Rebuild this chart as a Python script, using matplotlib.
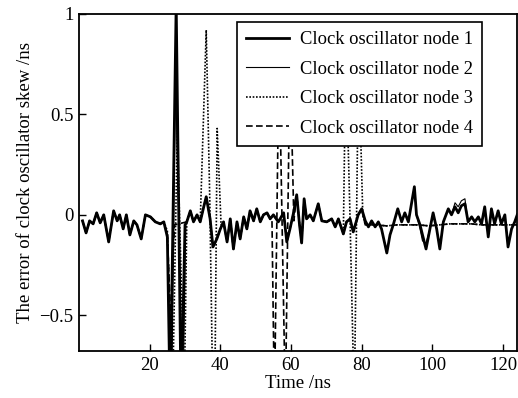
import matplotlib
matplotlib.use("Agg")
import matplotlib.pyplot as plt

plt.rcParams['font.family'] = ['Liberation Serif', 'DejaVu Serif']
plt.rcParams['font.size'] = 13.5

# shared noisy baseline (time /ns, error /ns)
base_t = [1, 2, 3, 4, 5, 6, 7, 8.4, 9.8, 10.8, 11.5, 12.5, 13.4, 14.4, 15.5, 16.4,
          17.6, 18.8, 20.2, 21.6, 23, 24, 25, 30.5, 31.5, 32.4, 33.4, 34.3, 35.3,
          36, 37.1, 37.9, 39, 40, 40.9, 41.9, 42.8, 43.7, 44.7, 45.6, 46.6, 47.5,
          48.4, 49.4, 50.3, 51.3, 52.2, 53.2, 54.1, 55, 56.4, 57.9, 58.8, 59.7,
          60.7, 61.6, 62.4, 63, 63.7, 64.4, 65.4, 66.3, 67.7, 68.7, 70.1, 71.5,
          72.5, 73.4, 74.8, 75.7, 76.7, 77.6, 79, 80, 81, 81.9, 82.8, 83.8, 84.7,
          85.6, 87.1, 88, 89, 90.2, 91.3, 92.2, 93.2, 94.9, 95.5, 96.5, 97.2, 98.2,
          99.3, 100.2, 101.2, 102.1, 103.1, 104.5, 105.4, 106.4, 107.3, 108.2,
          109.2, 110.1, 111.1, 112, 113, 113.9, 114.8, 115.8, 116.7, 117.6, 118.6,
          119.5, 120.5, 121.4, 122.4, 123.3, 124]
base_v = [-0.03, -0.09, -0.03, -0.045, 0.01, -0.04, 0.0, -0.135, 0.02, -0.03, 0.0,
          -0.07, 0.0, -0.10, -0.03, -0.05, -0.12, 0.0, -0.01, -0.035, -0.045, -0.035,
          -0.11, -0.035, 0.02, -0.035, 0.0, -0.035, 0.04, 0.09, -0.02, -0.16, -0.12,
          -0.07, -0.035, -0.135, -0.02, -0.17, -0.035, -0.12, -0.01, -0.07, 0.02,
          -0.03, 0.03, -0.035, 0.0, 0.01, -0.02, 0.0, -0.035, 0.01, -0.135, -0.07,
          0.01, 0.10, -0.05, -0.14, 0.08, -0.02, 0.0, -0.03, 0.055, -0.03, -0.035,
          -0.02, -0.06, -0.02, -0.095, -0.035, -0.02, -0.085, 0.0, 0.03, -0.03,
          -0.06, -0.03, -0.06, -0.035, -0.07, -0.19, -0.10, -0.045, 0.03, -0.035,
          0.01, -0.035, 0.14, 0.0, -0.05, -0.10, -0.17, -0.07, 0.01, -0.07, -0.17,
          -0.035, 0.03, 0.0, 0.04, 0.01, 0.045, 0.055, -0.035, -0.01, -0.035, -0.01,
          -0.045, 0.04, -0.11, 0.03, -0.045, 0.02, -0.045, 0.0, -0.16, -0.07,
          -0.035, 0.0]

# node 2 departs slightly from node 1 here
node2_fix_t = [96.5, 97.2, 98.2, 106.4, 107.3, 108.2, 109.2]
node2_fix_v = [-0.07, -0.13, -0.14, 0.06, 0.04, 0.07, 0.08]

# nodes 3 and 4 settle to a flat level after 81 ns
flat_t = [81, 84, 87, 90, 93, 96, 99, 102, 105, 108, 111, 114, 117, 120, 124]
flat_v = [-0.05, -0.05, -0.055, -0.05, -0.05, -0.05, -0.055, -0.05, -0.045,
          -0.045, -0.045, -0.05, -0.05, -0.05, -0.05]

# spikes
n1_spk_t = [25.0, 25.8, 27.5, 28.9, 30.0]
n1_spk_v = [-0.11, -0.95, 1.05, -0.95, -0.05]
n2_spk_t = [25.0, 26.2, 27.3, 28.2, 29.4, 30.2]
n2_spk_v = [-0.10, -0.95, 0.69, 0.0, -0.95, -0.04]
n3_spk_t = [25.0, 26.5, 27.8, 29.8, 30.5,
            34.3, 36.0, 37.0, 37.9, 38.4, 39.1, 40.2,
            74.8, 75.5, 76.6, 77.9, 79.1, 80.3]
n3_spk_v = [-0.08, -0.9, 0.42, -0.9, -0.03,
            -0.035, 0.92, 0.08, -0.95, -0.95, 0.43, -0.05,
            -0.095, 0.8, 0.05, -0.95, 0.8, 0.0]
n4_spk_t = [25.0, 26.0, 27.0, 54.6, 55.3, 56.6, 58.4, 59.7, 60.8]
n4_spk_v = [-0.10, -0.53, -0.05, -0.02, -0.95, 0.8, -0.95, 0.8, -0.03]

labels = ['Clock oscillator node 1', 'Clock oscillator node 2',
          'Clock oscillator node 3', 'Clock oscillator node 4']


def build(spk_t, spk_v, windows, fix_t=(), fix_v=(), flat_from=None):
    pts = []
    fix = dict(zip(fix_t, fix_v))
    for t, v in zip(base_t, base_v):
        if flat_from is not None and t >= flat_from:
            continue
        if any(a <= t <= b for a, b in windows):
            continue
        pts.append((t, fix.get(t, v)))
    pts += list(zip(spk_t, spk_v))
    if flat_from is not None:
        pts += [(t, v) for t, v in zip(flat_t, flat_v) if t >= flat_from]
    pts.sort()
    return [p[0] for p in pts], [p[1] for p in pts]


n1 = build(n1_spk_t, n1_spk_v, [(25, 30)])
n2 = build(n2_spk_t, n2_spk_v, [(25, 30.2)], node2_fix_t, node2_fix_v)
n3 = build(n3_spk_t, n3_spk_v, [(25, 30.5), (34.3, 40.2), (74.8, 80.3)], flat_from=81)
n4 = build(n4_spk_t, n4_spk_v, [(25, 27), (54.6, 60.8)], flat_from=81)

fig = plt.figure(figsize=(5.18, 3.98), dpi=100)
ax = fig.add_axes([0.1525, 0.118, 0.846, 0.847])

ax.plot(*n4, color='black', lw=1.2, ls=(0, (4, 2)), label=labels[3])
ax.plot(*n3, color='black', lw=1.2, ls=(0, (1, 1)), label=labels[2])
ax.plot(*n2, color='black', lw=0.8, label=labels[1])
ax.plot(*n1, color='black', lw=2.0, label=labels[0])

ax.set_xlim(0, 124)
ax.set_ylim(-0.678, 1)
ax.set_xticks([20, 40, 60, 80, 100, 120])
ax.set_yticks([-0.5, 0, 0.5, 1])
ax.set_yticklabels(['\u22120.5', '0', '0.5', '1'])
ax.tick_params(direction='in', length=5, width=1, labelsize=13.5, pad=4)
for s in ax.spines.values():
    s.set_linewidth(1.3)

ax.set_xlabel('Time /ns', fontsize=13.5, labelpad=1)
ax.set_ylabel('The error of clock oscillator skew /ns', fontsize=13.5, labelpad=4)

h, l = ax.get_legend_handles_labels()
leg = ax.legend(h[::-1], l[::-1], loc='upper right', bbox_to_anchor=(0.92, 0.976),
                fancybox=False, framealpha=1, edgecolor='black', fontsize=13.3,
                handlelength=2.3, labelspacing=0.68, borderpad=0.5, borderaxespad=0,
                handletextpad=0.6)
leg.get_frame().set_linewidth(1.2)

fig.savefig('out.png', dpi=100)
